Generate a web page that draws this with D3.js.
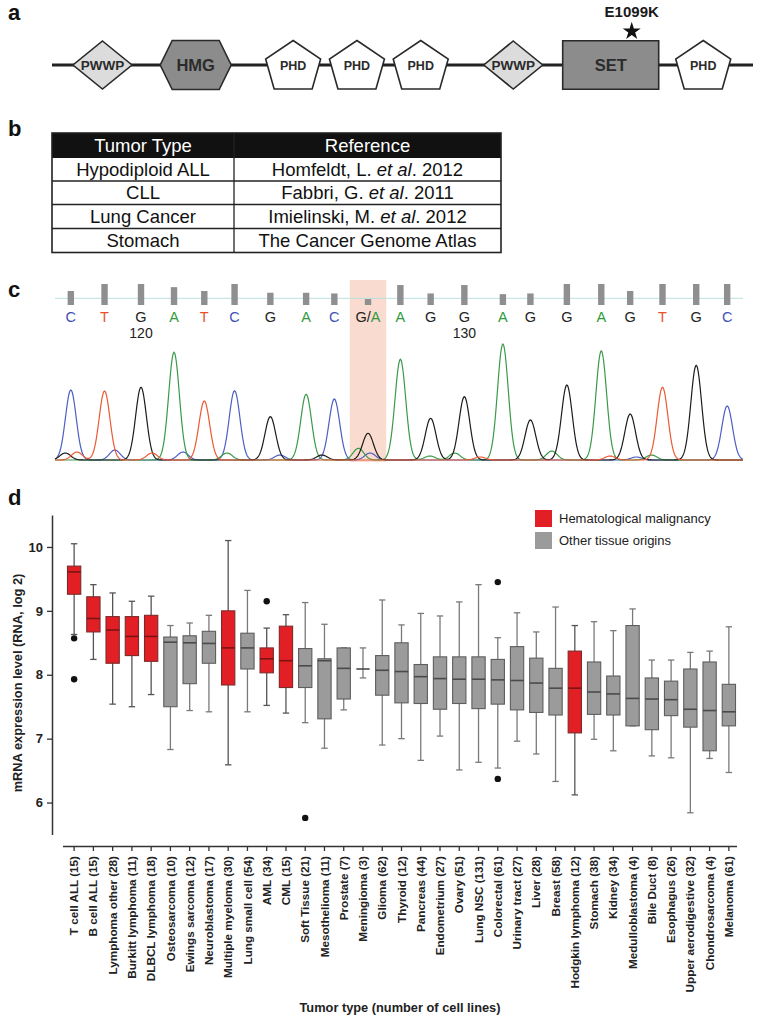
<!DOCTYPE html>
<html><head><meta charset="utf-8">
<script src="https://cdn.jsdelivr.net/npm/d3@7"></script>
<style>
body{margin:0;background:#fff;}
svg{display:block;font-family:"Liberation Sans",Arial,Helvetica,sans-serif;}
</style></head><body>
<svg id="fig" width="761" height="1020"></svg>
<script>
// ================= DATA =================
// Panel a: protein domain schematic (schematic units 0-100 along the protein)
const domainNames   = ["PWWP","HMG","PHD","PHD","PHD","PWWP","SET","PHD"];
const domainTypes   = ["diamond","hexagon","pentagon","pentagon","pentagon","diamond","rect","pentagon"];
const domainCentres = [7.2, 20.5, 34.4, 43.5, 52.6, 65.8, 79.7, 92.9];
const mutationLabels = ["E1099K"];
const mutationSites  = [82.7];

// Panel b: table
const tableHeader   = ["Tumor Type","Reference"];
const tableTumors   = ["Hypodiploid ALL","CLL","Lung Cancer","Stomach"];
const tableAuthors  = ["Homfeldt, L.","Fabbri, G.","Imielinski, M.","The Cancer Genome Atlas"];
const tableYears    = ["2012","2011","2012",""];

// Panel c: Sanger chromatogram (scan units 0-1000, RFU)
const baseCalls   = ["C","T","G","A","T","C","G","A","C","G/A","A","G","G","A","G","G","A","G","T","G","C"];
const peakScans   = [23,72,125,173,217,261,313,365,406,455,502,546,595,651,691,744,794,836,883,932,977];
const peakRFU     = [700,690,727,1077,590,693,433,657,610,267,1007,417,633,1160,400,750,1090,460,727,947,540];
const baseQV      = [40,60,60,51,40,60,35,35,33,17,57,33,57,31,33,60,60,40,60,60,60];
const positionLabels = ["120","130"];
const positionIndex  = [2,12];
const minorChannel = ["G","T","C","T","C","A","C","G","A","C","A","A","T","A","T","C","A"];
const minorScans   = [15,32,87,141,186,250,327,388,441,458,545,581,618,722,807,845,867];
const minorRFU     = [70,80,100,70,80,70,50,50,117,70,40,70,30,90,40,30,50];
const mutantIndex  = 9;

// Panel d: box plots
const tumorTypes = ["T cell ALL","B cell ALL","Lymphoma other","Burkitt lymphoma","DLBCL lymphoma","Osteosarcoma","Ewings sarcoma","Neuroblastoma","Multiple myeloma","Lung small cell","AML","CML","Soft Tissue","Mesothelioma","Prostate","Meningioma","Glioma","Thyroid","Pancreas","Endometrium","Ovary","Lung NSC","Colorectal","Urinary tract","Liver","Breast","Hodgkin lymphoma","Stomach","Kidney","Medulloblastoma","Bile Duct","Esophagus","Upper aerodigestive","Chondrosarcoma","Melanoma"];
const cellLineCounts = [15,15,28,11,18,10,12,17,30,54,34,15,21,11,7,3,62,12,44,27,51,131,61,27,28,58,12,38,34,4,8,26,32,4,61];
const hematological = [1,1,1,1,1,0,0,0,1,0,1,1,0,0,0,0,0,0,0,0,0,0,0,0,0,0,1,0,0,0,0,0,0,0,0];
const whiskerLow  = [8.63,8.24,7.54,7.50,7.69,6.83,7.44,7.42,6.59,7.42,7.52,7.40,7.25,6.85,7.45,7.95,6.90,7.00,6.66,7.04,6.51,6.63,6.54,6.96,6.76,6.33,6.12,6.99,6.81,7.20,6.73,6.70,5.84,6.69,6.47];
const quartile1   = [9.26,8.67,8.18,8.30,8.21,7.50,7.86,8.18,7.84,8.09,8.03,7.80,7.80,7.31,7.62,8.09,7.68,7.56,7.55,7.46,7.55,7.47,7.54,7.45,7.41,7.37,7.09,7.38,7.37,7.20,7.14,7.36,7.18,6.81,7.20];
const medians     = [9.61,8.88,8.70,8.60,8.60,8.51,8.50,8.49,8.42,8.42,8.25,8.22,8.14,8.22,8.10,8.09,8.07,8.05,7.97,7.94,7.93,7.93,7.92,7.91,7.87,7.79,7.79,7.73,7.70,7.63,7.62,7.61,7.46,7.44,7.42];
const quartile3   = [9.70,9.22,8.91,8.91,8.93,8.59,8.61,8.68,9.00,8.65,8.42,8.76,8.41,8.25,8.42,8.09,8.30,8.50,8.16,8.28,8.28,8.28,8.24,8.44,8.26,8.10,8.37,8.20,7.98,8.77,7.95,7.90,8.09,8.20,7.85];
const whiskerHigh = [10.05,9.41,9.28,9.15,9.23,8.77,8.81,8.93,10.10,9.32,8.73,8.94,9.13,8.79,8.42,8.42,9.17,8.78,8.96,8.92,9.14,9.41,8.58,8.97,8.67,9.06,8.77,8.83,8.69,9.03,8.23,8.23,8.35,8.37,8.75];
const outlierIndex = [0,0,10,12,22,22];
const outlierValue = [8.57,7.93,9.15,5.76,9.45,6.37];
const yTicks = [6,7,8,9,10];
const legendLabels = ["Hematological malignancy","Other tissue origins"];

// ================= DRAWING =================
const svg = d3.select("#fig");
const RED = "#e31f26", GRAY = "#9b9b9b";

function panelLabel(t, x, y){
  svg.append("text").attr("x",x).attr("y",y).attr("font-size",22).attr("font-weight","bold").attr("fill","#111").text(t);
}
panelLabel("a",8,20); panelLabel("b",8,136); panelLabel("c",8,297); panelLabel("d",8,505);

// ---------- Panel a ----------
(function(){
  const sx = d3.scaleLinear().domain([0,100]).range([52,753]);
  const cy = 65;
  const g = svg.append("g");
  g.append("line").attr("x1",sx(0)).attr("x2",sx(100)).attr("y1",cy).attr("y2",cy)
    .attr("stroke","#222").attr("stroke-width",3);
  domainNames.forEach((name,i)=>{
    const cx = sx(domainCentres[i]);
    const t = domainTypes[i];
    let pts, fill, fs;
    if(t==="diamond"){ pts=[[0,-24],[29.5,0],[0,24],[-29.5,0]]; fill="#dcdcdc"; fs=13.5; }
    else if(t==="hexagon"){ pts=[[-23.5,-24.5],[23.5,-24.5],[35.5,0],[23.5,24.5],[-23.5,24.5],[-35.5,0]]; fill="#8c8c8c"; fs=16.5; }
    else if(t==="pentagon"){ pts=[[0,-24.5],[27.5,-6],[19,24],[-19,24],[-27.5,-6]]; fill="#ffffff"; fs=12.5; }
    else { pts=[[-48,-24.3],[48,-24.3],[48,24.3],[-48,24.3]]; fill="#8c8c8c"; fs=16.5; }
    g.append("polygon").attr("points",pts.map(p=>[cx+p[0],cy+p[1]].join(",")).join(" "))
      .attr("fill",fill).attr("stroke","#2a2a2a").attr("stroke-width",1.6);
    g.append("text").attr("x",cx).attr("y",cy).attr("dy","0.36em").attr("text-anchor","middle")
      .attr("font-size",fs).attr("font-weight","bold").attr("fill","#2b2b2b").text(name);
  });
  mutationSites.forEach((m,i)=>{
    const x = sx(m);
    g.append("path").attr("d",d3.symbol(d3.symbolStar).size(100)()).attr("transform",`translate(${x},31.3)`).attr("fill","#111");
    g.append("text").attr("x",x).attr("y",16.5).attr("text-anchor","middle").attr("font-size",15)
      .attr("font-weight","bold").attr("fill","#1a1a1a").text(mutationLabels[i]);
  });
})();

// ---------- Panel b ----------
(function(){
  const g = svg.append("g");
  const colX = [52,234,501];
  const rowY = [133,158,181,204.5,228.5,252.5];
  g.append("rect").attr("x",colX[0]).attr("y",rowY[0]).attr("width",colX[2]-colX[0]).attr("height",rowY[1]-rowY[0]).attr("fill","#111");
  g.append("rect").attr("x",colX[0]).attr("y",rowY[0]).attr("width",colX[2]-colX[0]).attr("height",rowY[5]-rowY[0])
    .attr("fill","none").attr("stroke","#222").attr("stroke-width",1.6);
  for(let r=2;r<5;r++) g.append("line").attr("x1",colX[0]).attr("x2",colX[2]).attr("y1",rowY[r]).attr("y2",rowY[r]).attr("stroke","#222").attr("stroke-width",1.3);
  g.append("line").attr("x1",colX[1]).attr("x2",colX[1]).attr("y1",rowY[0]).attr("y2",rowY[5]).attr("stroke","#222").attr("stroke-width",1.3);
  const cxs = [(colX[0]+colX[1])/2,(colX[1]+colX[2])/2];
  tableHeader.forEach((h,i)=>{
    g.append("text").attr("x",cxs[i]).attr("y",(rowY[0]+rowY[1])/2+6.5).attr("text-anchor","middle")
      .attr("font-size",18.5).attr("fill","#fff").text(h);
  });
  tableTumors.forEach((t,r)=>{
    const yb = (rowY[r+1]+rowY[r+2])/2+6.5;
    g.append("text").attr("x",cxs[0]).attr("y",yb).attr("text-anchor","middle").attr("font-size",18.5).attr("fill","#111").text(t);
    const tx = g.append("text").attr("x",cxs[1]).attr("y",yb).attr("text-anchor","middle").attr("font-size",18.5).attr("fill","#111");
    if(tableYears[r]){
      tx.append("tspan").text(tableAuthors[r]+" ");
      tx.append("tspan").attr("font-style","italic").text("et al");
      tx.append("tspan").text(". "+tableYears[r]);
    } else tx.text(tableAuthors[r]);
  });
})();

// ---------- Panel c ----------
(function(){
  const g = svg.append("g");
  const sx = d3.scaleLinear().domain([0,1000]).range([55,743]);
  const sy = d3.scaleLinear().domain([0,1200]).range([460,340]);
  const qh = d3.scaleLinear().domain([0,60]).range([0,21]);
  const colour = {A:"#2f9a3e",C:"#3e50b4",G:"#222222",T:"#e8502a"};
  const traceColour = {A:"#3a9a48",C:"#4d5ec4",G:"#1c1c1c",T:"#ea5a33"};
  // highlight
  const hm = peakScans[mutantIndex];
  g.append("rect").attr("x",sx(hm-26.5)).attr("width",sx(hm+26.5)-sx(hm-26.5)).attr("y",280).attr("height",182).attr("fill","#f9dccf");
  // baseline for quality bars
  g.append("line").attr("x1",sx(0)).attr("x2",sx(1000)).attr("y1",298.3).attr("y2",298.3).attr("stroke","#b9e0e2").attr("stroke-width",1);
  g.selectAll("rect.q").data(baseQV).enter().append("rect").attr("class","q")
    .attr("x",(d,i)=>sx(peakScans[i])-3.2).attr("width",6.4)
    .attr("y",d=>305-qh(d)).attr("height",d=>qh(d)).attr("fill","#8f8f8f");
  // base letters
  baseCalls.forEach((b,i)=>{
    const t = g.append("text").attr("x",sx(peakScans[i])).attr("y",321.7).attr("text-anchor","middle").attr("font-size",14.5);
    if(b.length===1){ t.attr("fill",colour[b]).text(b); }
    else {
      const parts = b.split("/");
      t.append("tspan").attr("fill",colour[parts[0]]).text(parts[0]);
      t.append("tspan").attr("fill","#222").text("/");
      t.append("tspan").attr("fill",colour[parts[1]]).text(parts[1]);
    }
  });
  positionLabels.forEach((l,k)=>{
    g.append("text").attr("x",sx(peakScans[positionIndex[k]])).attr("y",338).attr("text-anchor","middle")
      .attr("font-size",14).attr("fill","#222").text(l);
  });
  // build channel peak lists
  const peaks = {A:[],C:[],G:[],T:[]};
  baseCalls.forEach((b,i)=>{ peaks[b.split("/")[0]].push([peakScans[i],peakRFU[i]]); });
  minorChannel.forEach((c,i)=>{ peaks[c].push([minorScans[i],minorRFU[i]]); });
  const sigma = 7.8;
  const samples = d3.range(0,1000.5,1);
  const line = d3.line().x(d=>sx(d[0])).y(d=>sy(d[1]));
  ["C","A","G","T"].forEach(ch=>{
    const pts = samples.map(s=>[s, d3.sum(peaks[ch], p=>p[1]*Math.exp(-((s-p[0])**2)/(2*sigma*sigma)))]);
    g.append("path").attr("d",line(pts)).attr("fill","none").attr("stroke",traceColour[ch]).attr("stroke-width",1.2);
  });
})();

// ---------- Panel d ----------
(function(){
  const g = svg.append("g");
  const idx = d3.range(tumorTypes.length);
  const x = d3.scaleBand().domain(idx).range([64.5,738.5]).paddingInner(0.31).paddingOuter(0.155);
  const y = d3.scaleLinear().domain([5.5,10.5]).range([834.5,515]);
  const bw = x.bandwidth();
  const cx = i => x(i)+bw/2;

  // y axis
  const ya = g.append("g").attr("transform","translate(52,0)")
    .call(d3.axisLeft(y).tickValues(yTicks).tickFormat(d3.format("d")).tickSize(5).tickSizeOuter(0).tickPadding(4));
  ya.select(".domain").attr("stroke","#333").attr("stroke-width",1.5);
  ya.selectAll(".tick line").attr("stroke","#333").attr("stroke-width",1.3);
  ya.selectAll(".tick text").attr("font-size",13).attr("font-weight","bold").attr("fill","#222").attr("font-family","Liberation Sans, Arial, sans-serif");

  // x axis
  const xa = g.append("g").attr("transform","translate(0,846)")
    .call(d3.axisBottom(x).tickFormat(i=>`${tumorTypes[i]} (${cellLineCounts[i]})`).tickSize(5).tickSizeOuter(0));
  xa.select(".domain").attr("stroke","#333").attr("stroke-width",1.5).attr("d","M63,0.5H737");
  xa.selectAll(".tick line").attr("stroke","#333").attr("stroke-width",1.3);
  xa.selectAll(".tick text").attr("transform","rotate(-90)").attr("x",-10).attr("y",0).attr("dy","0.35em")
    .attr("text-anchor","end").attr("font-size",11.7).attr("font-weight","bold").attr("fill","#222")
    .attr("font-family","Liberation Sans, Arial, sans-serif");

  // axis titles
  g.append("text").attr("transform","translate(22,683) rotate(-90)").attr("text-anchor","middle")
    .attr("font-size",12.8).attr("font-weight","bold").attr("fill","#222").text("mRNA expression level (RNA, log 2)");
  g.append("text").attr("x",400).attr("y",1012).attr("text-anchor","middle")
    .attr("font-size",12.8).attr("font-weight","bold").attr("fill","#222").text("Tumor type (number of cell lines)");

  // boxes
  idx.forEach(i=>{
    const heme = hematological[i]===1;
    const wc = heme ? "#555" : "#7a7a7a";
    const c = cx(i);
    g.append("line").attr("x1",c).attr("x2",c).attr("y1",y(whiskerLow[i])).attr("y2",y(whiskerHigh[i])).attr("stroke",wc).attr("stroke-width",1.3);
    [whiskerLow[i],whiskerHigh[i]].forEach(v=>{
      g.append("line").attr("x1",c-3.2).attr("x2",c+3.2).attr("y1",y(v)).attr("y2",y(v)).attr("stroke",wc).attr("stroke-width",1.3);
    });
    const top = y(quartile3[i]), bot = y(quartile1[i]);
    g.append("rect").attr("x",x(i)).attr("width",bw).attr("y",top).attr("height",Math.max(bot-top,0))
      .attr("fill",heme?RED:GRAY).attr("stroke",heme?"#7d2a2a":"#5e5e5e").attr("stroke-width",1.1);
    g.append("line").attr("x1",x(i)).attr("x2",x(i)+bw).attr("y1",y(medians[i])).attr("y2",y(medians[i]))
      .attr("stroke",heme?"#7a1414":"#4a4a4a").attr("stroke-width",1.6);
  });
  outlierIndex.forEach((k,j)=>{
    g.append("circle").attr("cx",cx(k)).attr("cy",y(outlierValue[j])).attr("r",3.2).attr("fill","#111");
  });

  // legend
  const lg = g.append("g");
  legendLabels.forEach((l,k)=>{
    lg.append("rect").attr("x",535).attr("y",510+k*22).attr("width",17).attr("height",17).attr("fill",k===0?RED:GRAY);
    lg.append("text").attr("x",559).attr("y",518.5+k*22).attr("dy","0.35em").attr("font-size",13).attr("fill","#222").text(l);
  });
})();
</script>
</body></html>
